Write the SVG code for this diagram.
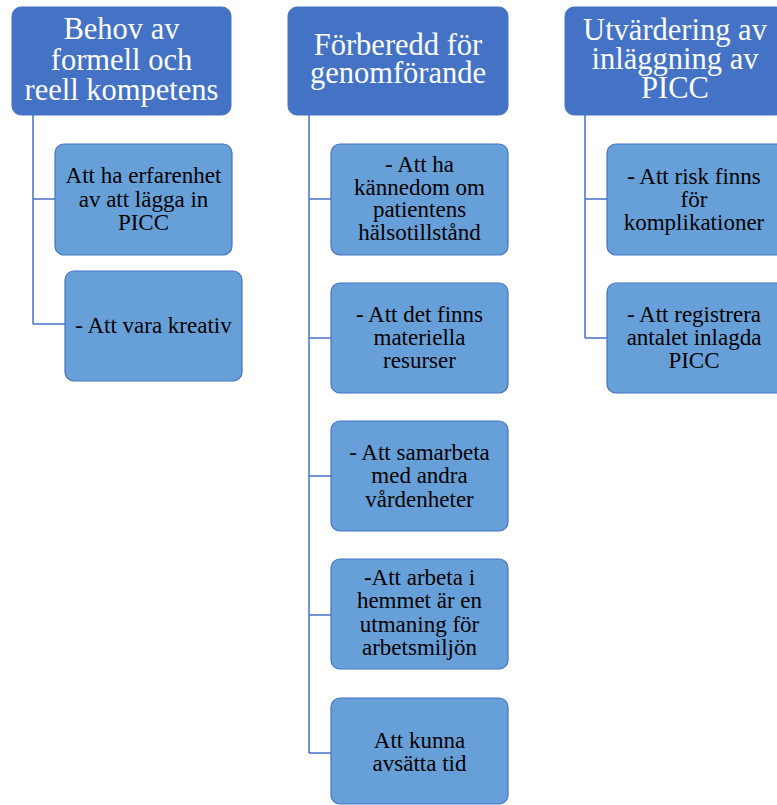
<svg xmlns="http://www.w3.org/2000/svg" width="777" height="805" viewBox="0 0 777 805">
<style>
.hdr{fill:#4472C4;stroke:#4472C4;stroke-width:1}
.chd{fill:#67A0D8;stroke:#4472C4;stroke-width:1.2}
.ht{font-family:'Liberation Serif','DejaVu Serif',serif;font-size:30.5px;fill:#ffffff;text-anchor:middle}
.ct{font-family:'Liberation Serif','DejaVu Serif',serif;font-size:23px;fill:#000000;text-anchor:middle}
.con{fill:none;stroke:#4472C4;stroke-width:1.5}
</style>
<rect width="777" height="805" fill="#ffffff"/>
<g id="connectors">
<path class="con" d="M33,115 V324 M33,199 H55 M33,324 H65"/>
<path class="con" d="M309,115 V753 M309,199 H331 M309,338 H331 M309,476 H331 M309,615 H331 M309,753 H331"/>
<path class="con" d="M585,115 V338 M585,199 H607 M585,338 H607"/>
</g>
<g id="h1"><rect class="hdr" x="12" y="7" width="219" height="108" rx="9"/>
<text class="ht"><tspan x="121.5" y="39">Behov av</tspan><tspan x="121.5" y="70">formell och</tspan><tspan x="121.5" y="100">reell kompetens</tspan></text></g>
<g id="h2"><rect class="hdr" x="288" y="7" width="220" height="108" rx="9"/>
<text class="ht"><tspan x="398" y="55">Förberedd för</tspan><tspan x="398" y="83">genomförande</tspan></text></g>
<g id="h3"><rect class="hdr" x="565" y="7" width="220" height="108" rx="9"/>
<text class="ht"><tspan x="675" y="40">Utvärdering av</tspan><tspan x="675" y="69">inläggning av</tspan><tspan x="675" y="98">PICC</tspan></text></g>
<g id="c1a"><rect class="chd" x="55" y="144" width="177" height="111" rx="9"/>
<text class="ct"><tspan x="143.5" y="183">Att ha erfarenhet</tspan><tspan x="143.5" y="206.5">av att lägga in</tspan><tspan x="143.5" y="230">PICC</tspan></text></g>
<g id="c1b"><rect class="chd" x="65" y="271" width="177" height="110" rx="9"/>
<text class="ct"><tspan x="153.5" y="333">- Att vara kreativ</tspan></text></g>
<g id="c2a"><rect class="chd" x="331" y="144" width="177" height="111" rx="9"/>
<text class="ct"><tspan x="419.5" y="172">- Att ha</tspan><tspan x="419.5" y="194.5">kännedom om</tspan><tspan x="419.5" y="217">patientens</tspan><tspan x="419.5" y="240">hälsotillstånd</tspan></text></g>
<g id="c2b"><rect class="chd" x="331" y="283" width="177" height="110" rx="9"/>
<text class="ct"><tspan x="419.5" y="322">- Att det finns</tspan><tspan x="419.5" y="345">materiella</tspan><tspan x="419.5" y="368">resurser</tspan></text></g>
<g id="c2c"><rect class="chd" x="331" y="421" width="177" height="110" rx="9"/>
<text class="ct"><tspan x="419.5" y="460">- Att samarbeta</tspan><tspan x="419.5" y="483">med andra</tspan><tspan x="419.5" y="507">vårdenheter</tspan></text></g>
<g id="c2d"><rect class="chd" x="331" y="559" width="177" height="110" rx="9"/>
<text class="ct"><tspan x="419.5" y="585">-Att arbeta i</tspan><tspan x="419.5" y="608">hemmet är en</tspan><tspan x="419.5" y="632">utmaning för</tspan><tspan x="419.5" y="655">arbetsmiljön</tspan></text></g>
<g id="c2e"><rect class="chd" x="331" y="698" width="177" height="106" rx="9"/>
<text class="ct"><tspan x="419.5" y="748">Att kunna</tspan><tspan x="419.5" y="771">avsätta tid</tspan></text></g>
<g id="c3a"><rect class="chd" x="607" y="144" width="177" height="111" rx="9"/>
<text class="ct"><tspan x="694" y="184">- Att risk finns</tspan><tspan x="694" y="207">för</tspan><tspan x="694" y="230">komplikationer</tspan></text></g>
<g id="c3b"><rect class="chd" x="607" y="283" width="177" height="110" rx="9"/>
<text class="ct"><tspan x="694" y="322">- Att registrera</tspan><tspan x="694" y="345">antalet inlagda</tspan><tspan x="694" y="368">PICC</tspan></text></g>
</svg>
